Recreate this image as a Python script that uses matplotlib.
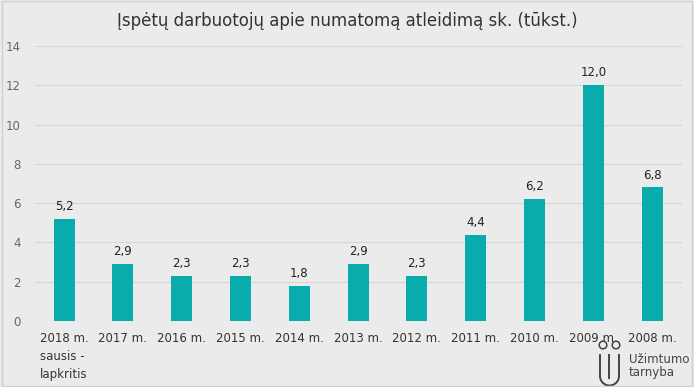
import math

import matplotlib.pyplot as plt
from matplotlib.patches import Rectangle, Circle

categories = ["2018 m.\nsausis -\nlapkritis", "2017 m.", "2016 m.", "2015 m.",
              "2014 m.", "2013 m.", "2012 m.", "2011 m.", "2010 m.",
              "2009 m.", "2008 m."]
values = [5.2, 2.9, 2.3, 2.3, 1.8, 2.9, 2.3, 4.4, 6.2, 12.0, 6.8]
yticks = [0, 2, 4, 6, 8, 10, 12, 14]

BG = "#ebebeb"
BAR = "#0aabad"
LOGO = "#444444"

fig = plt.figure(figsize=(6.94, 3.87), dpi=100, facecolor=BG)
ax = fig.add_axes([0.05, 0.1705, 0.932, 0.7106], facecolor=BG)

xs = range(len(values))
ax.bar(xs, values, width=0.36, color=BAR, zorder=3)
for x, v in zip(xs, values):
    ax.text(x, v + 0.3, f"{v:.1f}".replace(".", ","), ha="center", va="bottom",
            fontsize=8.5, color="#222222")

ax.set_xlim(-0.5, len(values) - 0.5)
ax.set_ylim(0, 14)
ax.set_yticks(yticks)
ax.set_xticks(list(xs))
ax.set_xticklabels(categories, fontsize=8.5, color="#333333", linespacing=1.5,
                   ha="center", multialignment="left")
ax.tick_params(axis="y", labelsize=8.5, labelcolor="#666666", length=0, pad=10)
ax.tick_params(axis="x", length=0, pad=8)
ax.grid(axis="y", color="#d6d6d6", linewidth=0.8, zorder=0)
for s in ax.spines.values():
    s.set_visible(False)

fig.text(0.5, 0.945, "Įspėtų darbuotojų apie numatomą atleidimą sk. (tūkst.)",
         ha="center", va="center", fontsize=12, color="#333333")

# logo (drawn in a small axes measured in pixels)
fig.text(629 / 694, 1 - 353 / 387, "Užimtumo\ntarnyba", ha="left", va="top",
         fontsize=8.5, color=LOGO, linespacing=1.0)
lax = fig.add_axes([596 / 694, 1 / 387, 26 / 694, 46 / 387])
lax.set_xlim(0, 26)
lax.set_ylim(0, 46)
lax.axis("off")
lax.plot([4, 4], [31, 10], color=LOGO, lw=1.4)
lax.plot([23, 23], [31, 10], color=LOGO, lw=1.4)
t = [i / 24 for i in range(25)]
lax.plot([13.5 - 9.5 * math.cos(math.pi * s) for s in t],
         [10 - 9.5 * math.sin(math.pi * s) for s in t], color=LOGO, lw=1.4)
lax.plot([13, 13], [31, 8], color=LOGO, lw=1.4)
lax.add_patch(Circle((7, 41), 3.8, fill=False, ec=LOGO, lw=1.1))
lax.add_patch(Circle((20, 41), 3.8, fill=False, ec=LOGO, lw=1.1))

fig.patches.append(Rectangle((0.003, 0.003), 0.994, 0.994, transform=fig.transFigure,
                             fill=False, ec="#d0d0d0", lw=1))

fig.savefig("out.png", dpi=100, facecolor=BG)
